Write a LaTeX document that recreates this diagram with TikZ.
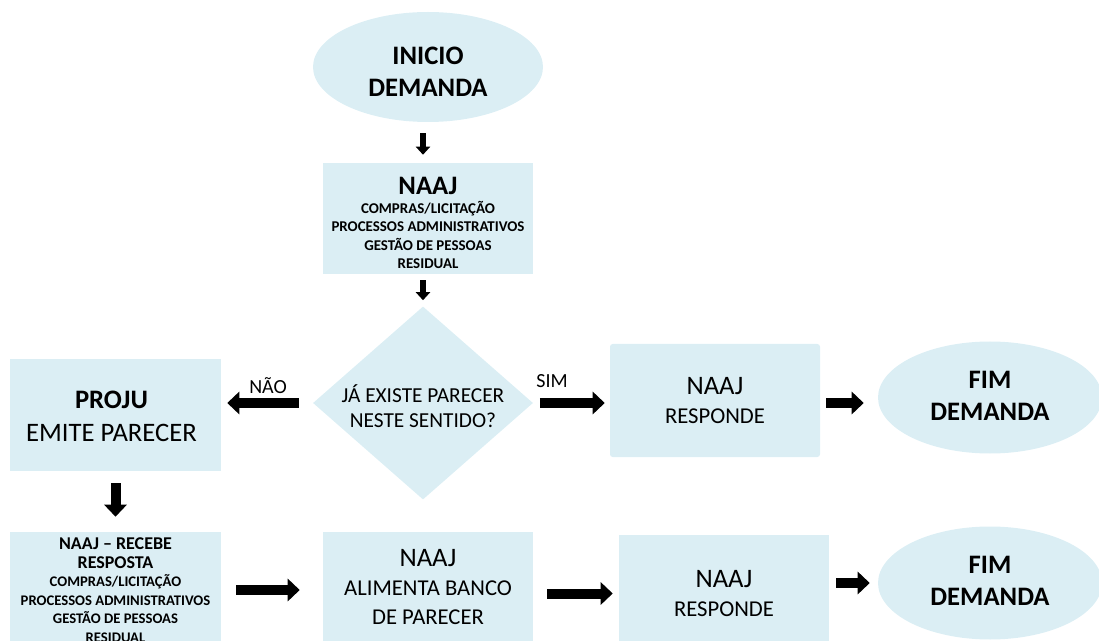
\documentclass[tikz,border=0pt]{standalone}
\usepackage{fontspec}
\setmainfont{Carlito}
\usetikzlibrary{shapes.geometric,arrows.meta}
\definecolor{boxfill}{HTML}{DBEEF4}
\tikzset{
  box/.style={rectangle, fill=boxfill, inner sep=0pt, align=center},
  oval/.style={ellipse, fill=boxfill, inner sep=0pt, align=center,
    font=\fontsize{20}{24}\selectfont\bfseries},
  txt/.style={align=center, inner sep=0pt},
  bigarrow/.style={line width=7.5pt, line cap=butt, -{Triangle[length=9pt,width=16.5pt]}},
  smallarrow/.style={line width=4.5pt, line cap=butt, -{Triangle[length=6pt,width=10.5pt]}},
  lbl/.style={font=\fontsize{15}{18}\selectfont, inner sep=0pt},
}
\begin{document}
\begin{tikzpicture}[x=0.75pt,y=-0.75pt]
\useasboundingbox (0,0) rectangle (1099,641);
\clip (0,0) rectangle (1099,641);

% nodes
\node[oval, minimum width=172.5pt, minimum height=82.5pt] (start) at (428,67) {};
\node[txt, font=\fontsize{20}{24}\selectfont\bfseries] (starttext) at ([yshift=-3.5pt]start.center) {INICIO\\DEMANDA};

\node[box, minimum width=157.5pt, minimum height=83.25pt] (naaj1) at (428,218.5) {};
\node[txt, font=\fontsize{11.2}{13.9}\selectfont\bfseries] (naaj1text) at ([yshift=-3.4pt]naaj1.center)
  {{\fontsize{20}{24}\selectfont NAAJ}\\COMPRAS/LICITAÇÃO\\PROCESSOS ADMINISTRATIVOS\\GESTÃO DE PESSOAS\\RESIDUAL};

\node[diamond, fill=boxfill, inner sep=0pt, minimum width=165pt, minimum height=144.75pt] (dec) at (423,403) {};
\node[txt, font=\fontsize{16}{19}\selectfont] (dectext) at ([yshift=-2.5pt]dec.center)
  {JÁ EXISTE PARECER\\NESTE SENTIDO?};

\node[box, minimum width=158.25pt, minimum height=84pt] (proju) at (115.5,415) {};
\node[txt, font=\fontsize{20}{25}\selectfont] (projutext) at ([xshift=-3pt,yshift=-1pt]proju.center)
  {\textbf{PROJU}\\EMITE PARECER};

\node[box, rounded corners=2pt, minimum width=157.5pt, minimum height=84.75pt,
  font=\fontsize{17}{22}\selectfont] (resp1) at (715,400.5)
  {{\fontsize{20}{24}\selectfont NAAJ}\\RESPONDE};

\node[oval, minimum width=168pt, minimum height=84pt] (fim1) at (990,397.5) {};
\node[txt, font=\fontsize{20}{24}\selectfont\bfseries] (fim1text) at ([yshift=1pt]fim1.center) {FIM\\DEMANDA};

\node[box, minimum width=158.25pt, minimum height=87pt,
  font=\fontsize{11}{13.9}\selectfont\bfseries] (recebe) at (115.5,590)
  {{\fontsize{13.5}{15.75}\selectfont NAAJ -- RECEBE}\\{\fontsize{13.5}{15.75}\selectfont RESPOSTA}\\COMPRAS/LICITAÇÃO\\PROCESSOS ADMINISTRATIVOS\\GESTÃO DE PESSOAS\\RESIDUAL};

\node[box, minimum width=157.5pt, minimum height=82.5pt,
  font=\fontsize{17}{22}\selectfont] (alim) at (428,587)
  {{\fontsize{20}{24}\selectfont NAAJ}\\ALIMENTA BANCO\\DE PARECER};

\node[box, minimum width=157.5pt, minimum height=87.75pt,
  font=\fontsize{17}{22}\selectfont] (resp2) at (724,593.5)
  {{\fontsize{20}{24}\selectfont NAAJ}\\RESPONDE};

\node[oval, minimum width=168pt, minimum height=84.75pt] (fim2) at (990,583) {};
\node[txt, font=\fontsize{20}{24}\selectfont\bfseries] (fim2text) at ([yshift=1.5pt]fim2.center) {FIM\\DEMANDA};

% labels
\node[lbl] (nao) at (268,386) {NÃO};
\node[lbl] (sim) at (552,381) {SIM};

% connectors
\draw[smallarrow, shorten <=8.25pt, shorten >=6pt] (start.south -| dec.north) -- (naaj1.north -| dec.north);
\draw[smallarrow, shorten <=4.5pt, shorten >=4.5pt] (naaj1.south -| dec.north) -- (dec.north);
\draw[bigarrow, shorten <=10.5pt, shorten >=4.5pt] (dec.west) -- (dec.west -| proju.east);
\draw[bigarrow, shorten <=5pt, shorten >=3.75pt] (dec.east) -- (dec.east -| resp1.west);
\draw[bigarrow, shorten <=4.5pt, shorten >=10.5pt] (resp1.east |- dec.east) -- (fim1.west |- dec.east);
\draw[bigarrow, shorten <=9pt, shorten >=11.25pt] (proju.south) -- (recebe.north);
\draw[bigarrow, shorten <=11.25pt, shorten >=17.25pt] (recebe.east) -- (recebe.east -| alim.west);
\draw[bigarrow, shorten <=10.5pt, shorten >=4.5pt] (alim.east |- resp2.west) -- (resp2.west);
\draw[bigarrow, shorten <=5.25pt, shorten >=6pt] (resp2.east |- fim2.west) -- (fim2.west);
\end{tikzpicture}
\end{document}
